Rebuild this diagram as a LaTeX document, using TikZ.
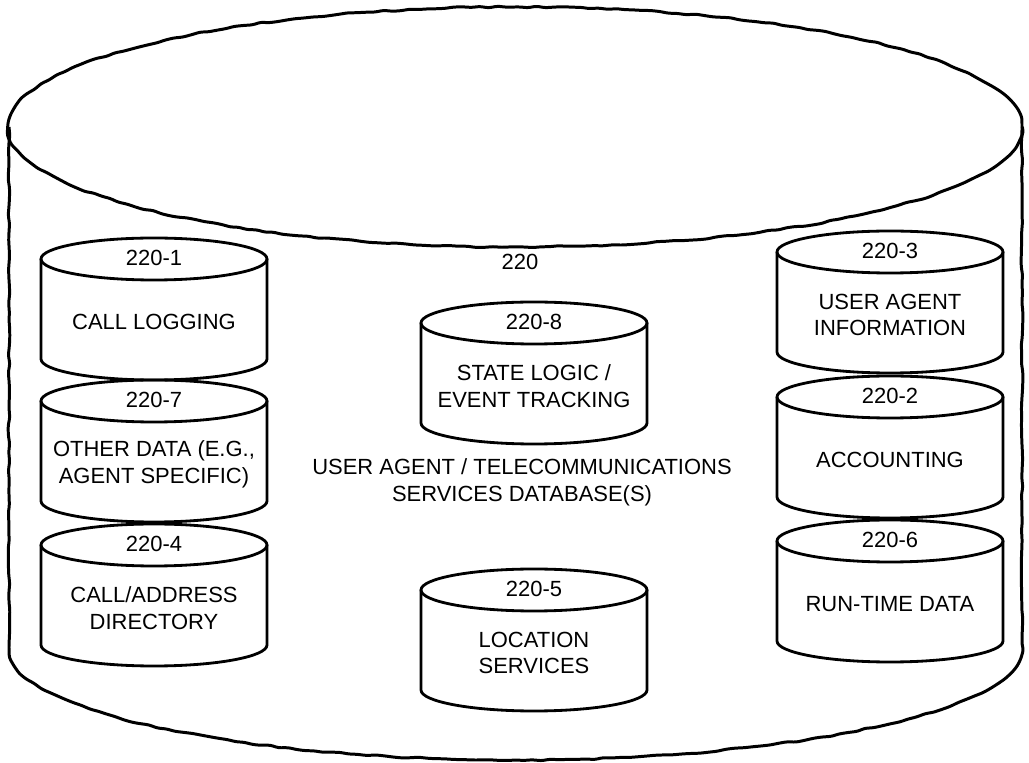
\documentclass[tikz,border=0pt]{standalone}
\usepackage{fontspec}
\setmainfont{Liberation Sans}
\usetikzlibrary{decorations.pathmorphing}

\tikzset{
  drum/.style={line width=1.6pt},
  tub/.style={line width=1.7pt,decorate,
    decoration={random steps,segment length=5pt,amplitude=0.5pt},rounded corners=1.5pt},
  lbl/.style={inner sep=0pt,align=center,font=\fontsize{12.5}{15.3}\selectfont}
}
% one small database drum: centre x, top y, name, number, text
\newcommand{\drum}[5]{%
  \draw[drum] (#1,#2) ellipse [x radius=113, y radius=21];
  \draw[drum] (#1-113,#2) -- (#1-113,#2-100)
     arc [start angle=180, end angle=360, x radius=113, y radius=21] -- (#1+113,#2);
  \node[lbl] (#3-no) at (#1,#2+1) {#4};
  \node[lbl] (#3) at (#1,#2-63) {#5};
}

\begin{document}
\begin{tikzpicture}[x=0.02cm,y=0.02cm]
\pgfmathsetseed{11}
\useasboundingbox (0,0) rectangle (1029,-763);
% the big database 220
\draw[tub] (515,-127) ellipse [x radius=507, y radius=120];
\draw[tub] (9,-127) -- (9,-647)
   arc [start angle=180, end angle=360, x radius=506.5, y radius=113] -- (1022,-127);
\node[lbl] (db-no) at (520,-262) {220};
\node[lbl] (db) at (522,-482) {USER AGENT / TELECOMMUNICATIONS\\SERVICES DATABASE(S)};
% left column
\drum{154}{-259}{log}{220-1}{CALL LOGGING}
\drum{154}{-401}{other}{220-7}{OTHER DATA (E.G.,\\AGENT SPECIFIC)}
\drum{154}{-545}{dir}{220-4}{CALL/ADDRESS\\DIRECTORY}
% middle
\drum{534}{-323}{state}{220-8}{STATE LOGIC /\\EVENT TRACKING}
\drum{534}{-590}{loc}{220-5}{LOCATION\\SERVICES}
% right column
\drum{890}{-252}{agent}{220-3}{USER AGENT\\INFORMATION}
\drum{890}{-397}{acct}{220-2}{ACCOUNTING}
\drum{890}{-541}{run}{220-6}{RUN-TIME DATA}
\end{tikzpicture}
\end{document}
